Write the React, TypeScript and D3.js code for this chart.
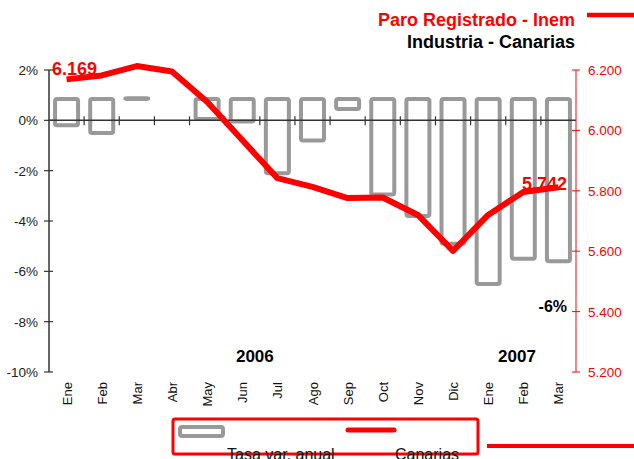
import React, { useEffect, useRef } from 'react';
import * as d3 from 'd3';

const width = 634,
  height = 459;

// categorias (meses) y años
const months = ['Ene', 'Feb', 'Mar', 'Abr', 'May', 'Jun', 'Jul', 'Ago', 'Sep', 'Oct', 'Nov', 'Dic', 'Ene', 'Feb', 'Mar'];
const years = [
  { label: '2006', at: 5.86 },
  { label: '2007', at: 13.32 },
];

// tasa de variacion anual (%), barras huecas que arrancan de la base
const barBase = 0.85;
const tasaVar: (number | null)[] = [-0.2, -0.5, 0.88, null, 0.05, -0.05, -2.1, -0.8, 0.45, -2.95, -3.8, -4.9, -6.5, -5.5, -5.6];

// paro registrado industria canarias
const paro = [6169, 6182, 6213, 6195, 6095, 5968, 5842, 5813, 5776, 5778, 5720, 5601, 5720, 5796, 5812];
const firstLabel = '6.169';
const lastLabel = '5.742';
const lastTasaLabel = '-6%';

const leftTicks = [2, 0, -2, -4, -6, -8, -10];
const rightTicks = [6200, 6000, 5800, 5600, 5400, 5200];

const GRAY = '#999999';
const RED = '#FF0000';
const FONT = '"Liberation Sans", Arial, sans-serif';

function App() {
  const ref = useRef<SVGSVGElement>(null);

  useEffect(() => {
    const svg = d3.select(ref.current);
    svg.selectAll('*').remove();

    const x = d3
      .scaleBand<number>()
      .domain(months.map((_, i) => i))
      .range([49, 576])
      .paddingInner(0.345)
      .paddingOuter(0.1725);
    const step = x.step();
    const cx = (i: number) => (x(i) as number) + x.bandwidth() / 2;

    const yL = d3.scaleLinear().domain([-10, 2]).range([372, 70]);
    const yR = d3.scaleLinear().domain([5200, 6200]).range([372, 70]);

    // titulos
    svg.append('text')
      .attr('x', 575).attr('y', 26)
      .attr('text-anchor', 'end')
      .style('font', `bold 18px ${FONT}`)
      .style('fill', RED)
      .text('Paro Registrado - Inem');
    svg.append('line')
      .attr('x1', 587).attr('x2', 634).attr('y1', 15).attr('y2', 15)
      .attr('stroke', RED).attr('stroke-width', 4.5);
    svg.append('text')
      .attr('x', 575).attr('y', 48)
      .attr('text-anchor', 'end')
      .style('font', `bold 18px ${FONT}`)
      .style('fill', '#000')
      .text('Industria - Canarias');

    // barras
    const bars = svg.append('g');
    tasaVar.forEach((v, i) => {
      if (v === null) return;
      const y0 = yL(Math.max(v, barBase));
      const y1 = yL(Math.min(v, barBase));
      bars.append('rect')
        .attr('x', x(i) as number)
        .attr('y', y0)
        .attr('width', x.bandwidth())
        .attr('height', Math.max(y1 - y0, 0.5))
        .attr('rx', 2)
        .attr('fill', 'white')
        .attr('stroke', GRAY)
        .attr('stroke-width', 4);
    });

    // eje izquierdo
    const axisColor = '#333';
    const left = svg.append('g');
    left.append('line')
      .attr('x1', 49).attr('x2', 49).attr('y1', yL(2)).attr('y2', yL(-10))
      .attr('stroke', axisColor).attr('stroke-width', 1.5);
    leftTicks.forEach((t) => {
      left.append('line')
        .attr('x1', 44).attr('x2', 53).attr('y1', yL(t)).attr('y2', yL(t))
        .attr('stroke', axisColor).attr('stroke-width', 1.2);
      left.append('text')
        .attr('x', 38).attr('y', yL(t) + 5)
        .attr('text-anchor', 'end')
        .style('font', `13.5px ${FONT}`)
        .style('fill', '#222')
        .text(t + '%');
    });

    // linea del 0%
    svg.append('line')
      .attr('x1', 49).attr('x2', 576).attr('y1', yL(0)).attr('y2', yL(0))
      .attr('stroke', axisColor).attr('stroke-width', 1.5);
    months.forEach((_, i) => {
      if (i === 0) return;
      const tx = 49 + step * i;
      svg.append('line')
        .attr('x1', tx).attr('x2', tx).attr('y1', yL(0) - 4).attr('y2', yL(0) + 5)
        .attr('stroke', axisColor).attr('stroke-width', 1.2);
    });

    // eje derecho
    const right = svg.append('g');
    right.append('line')
      .attr('x1', 576).attr('x2', 576).attr('y1', yR(6200)).attr('y2', yR(5200))
      .attr('stroke', RED).attr('stroke-width', 1);
    rightTicks.forEach((t) => {
      right.append('line')
        .attr('x1', 572).attr('x2', 580).attr('y1', yR(t)).attr('y2', yR(t))
        .attr('stroke', RED).attr('stroke-width', 1);
      right.append('text')
        .attr('x', 588).attr('y', yR(t) + 5)
        .style('font', `13.5px ${FONT}`)
        .style('fill', RED)
        .text(d3.format(',.3f')(t / 1000).replace(',', ''));
    });

    // etiquetas de meses
    months.forEach((m, i) => {
      svg.append('text')
        .attr('transform', `translate(${cx(i) + 5},382) rotate(-90)`)
        .attr('text-anchor', 'end')
        .style('font', `13px ${FONT}`)
        .style('fill', '#111')
        .text(m);
    });

    // años
    years.forEach((yr) => {
      svg.append('text')
        .attr('x', 49 + step * yr.at).attr('y', 362)
        .attr('text-anchor', 'middle')
        .style('font', `bold 17px ${FONT}`)
        .style('fill', '#000')
        .text(yr.label);
    });

    // linea de paro
    const line = d3.line<number>()
      .x((_, i) => cx(i))
      .y((d) => yR(d));
    svg.append('path')
      .datum(paro)
      .attr('d', line)
      .attr('fill', 'none')
      .attr('stroke', RED)
      .attr('stroke-width', 6)
      .attr('stroke-linejoin', 'round');

    // etiquetas de datos
    svg.append('text')
      .attr('x', 52).attr('y', 75)
      .style('font', `bold 18px ${FONT}`)
      .style('fill', RED)
      .text(firstLabel);
    svg.append('text')
      .attr('x', 567).attr('y', 190)
      .attr('text-anchor', 'end')
      .style('font', `bold 18px ${FONT}`)
      .style('fill', RED)
      .text(lastLabel);
    svg.append('text')
      .attr('x', 567).attr('y', 312)
      .attr('text-anchor', 'end')
      .style('font', `bold 16px ${FONT}`)
      .style('fill', '#000')
      .text(lastTasaLabel);

    // leyenda
    const lg = svg.append('g');
    lg.append('rect')
      .attr('x', 173).attr('y', 419).attr('width', 305).attr('height', 35)
      .attr('rx', 2)
      .attr('fill', 'none').attr('stroke', RED).attr('stroke-width', 3);
    lg.append('rect')
      .attr('x', 180).attr('y', 427).attr('width', 43).attr('height', 9)
      .attr('rx', 2)
      .attr('fill', 'white').attr('stroke', GRAY).attr('stroke-width', 4);
    lg.append('line')
      .attr('x1', 348).attr('x2', 394).attr('y1', 430).attr('y2', 430)
      .attr('stroke', RED).attr('stroke-width', 5).attr('stroke-linecap', 'round');
    lg.append('text')
      .attr('x', 227).attr('y', 460)
      .style('font', `16px ${FONT}`)
      .style('fill', '#111')
      .text('Tasa var. anual');
    lg.append('text')
      .attr('x', 395).attr('y', 460)
      .style('font', `16px ${FONT}`)
      .style('fill', '#111')
      .text('Canarias');
    lg.append('line')
      .attr('x1', 487).attr('x2', 634).attr('y1', 446).attr('y2', 446)
      .attr('stroke', RED).attr('stroke-width', 4);
  }, []);

  return (
    <svg
      ref={ref}
      width={width}
      height={height}
      style={{ position: 'absolute', left: 0, top: 0, background: 'white' }}
    />
  );
}

export default App;
